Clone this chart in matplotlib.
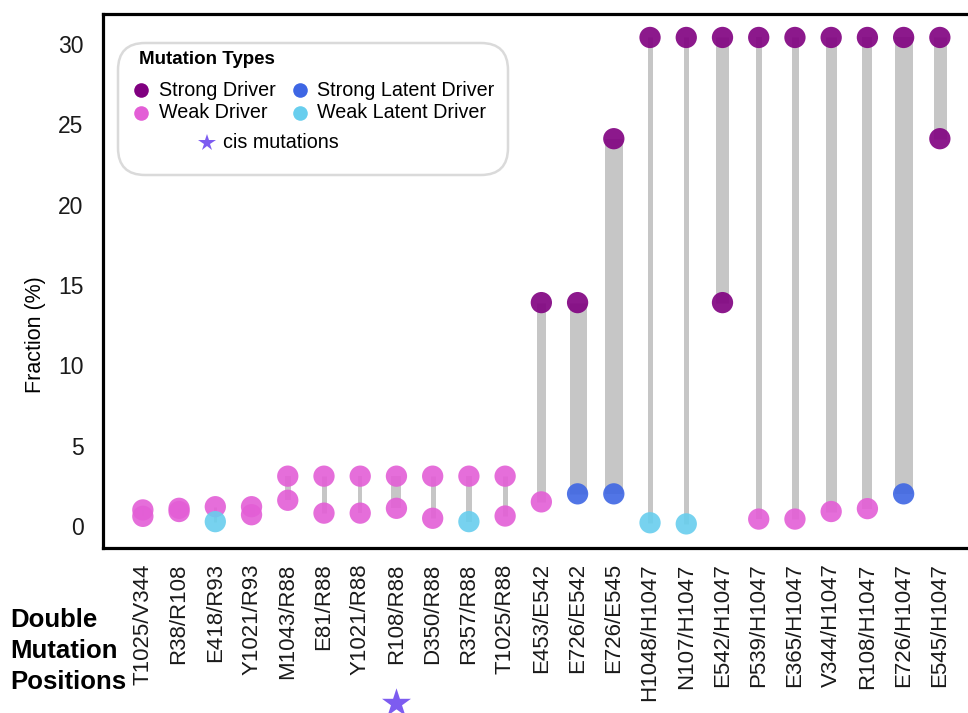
import matplotlib
matplotlib.use('Agg')
import matplotlib.pyplot as plt
from matplotlib.patches import FancyBboxPatch
from matplotlib.lines import Line2D
from matplotlib.transforms import blended_transform_factory

plt.rcParams['font.family'] = ['Liberation Sans', 'DejaVu Sans']

# Double mutation pairs and the fraction (%) of each partner mutation
pairs = ["T1025/V344", "R38/R108", "E418/R93", "Y1021/R93", "M1043/R88", "E81/R88",
         "Y1021/R88", "R108/R88", "D350/R88", "R357/R88", "T1025/R88", "E453/E542",
         "E726/E542", "E726/E545", "H1048/H1047", "N107/H1047", "E542/H1047",
         "P539/H1047", "E365/H1047", "V344/H1047", "R108/H1047", "E726/H1047",
         "E545/H1047"]
upper_frac = [1.0, 1.1, 1.2, 1.2, 3.1, 3.1, 3.1, 3.1, 3.1, 3.1, 3.1, 13.9,
              13.9, 24.1, 30.4, 30.4, 30.4, 30.4, 30.4, 30.4, 30.4, 30.4, 30.4]
upper_type = ["Weak Driver"] * 11 + ["Strong Driver"] * 12
lower_frac = [0.6, 0.9, 0.27, 0.7, 1.6, 0.8, 0.8, 1.1, 0.48, 0.27, 0.62, 1.5,
              2.0, 2.0, 0.2, 0.13, 13.9, 0.43, 0.43, 0.9, 1.08, 2.0, 24.1]
lower_type = ["Weak Driver", "Weak Driver", "Weak Latent Driver", "Weak Driver",
              "Weak Driver", "Weak Driver", "Weak Driver", "Weak Driver",
              "Weak Driver", "Weak Latent Driver", "Weak Driver", "Weak Driver",
              "Strong Latent Driver", "Strong Latent Driver", "Weak Latent Driver",
              "Weak Latent Driver", "Strong Driver", "Weak Driver", "Weak Driver",
              "Weak Driver", "Weak Driver", "Strong Latent Driver", "Strong Driver"]
# relative weight of each pair (drawn as connector thickness)
pair_weight = [2, 3, 3, 5, 6, 5, 4, 10, 5, 6, 5, 9, 17, 18, 5, 5, 13, 6, 7, 11, 10, 18, 13]
cis_pairs = ["R108/R88"]

type_colors = {
    "Strong Driver": "#800080",
    "Weak Driver": "#E35ED6",
    "Strong Latent Driver": "#3E66E4",
    "Weak Latent Driver": "#68CEEE",
}
star_color = "#7D5CF0"

fig = plt.figure(figsize=(9.68, 7.13), dpi=100)
W, H = 968, 713
ax = fig.add_axes([103 / W, 1 - 548 / H, 872 / W, 534 / H])

x = list(range(len(pairs)))

# connectors between the two mutations of each pair
ax.vlines(x, lower_frac, upper_frac, colors="#c6c6c6",
          linewidths=[w * 0.72 for w in pair_weight], zorder=1)

ax.scatter(x, upper_frac, s=235, c=[type_colors[t] for t in upper_type],
           alpha=0.9, linewidths=0, zorder=2)
ax.scatter(x, lower_frac, s=235, c=[type_colors[t] for t in lower_type],
           alpha=0.9, linewidths=0, zorder=2)

ax.set_xlim(-1.1, 22.97)
ax.set_ylim(-1.37, 31.86)
ax.set_yticks([0, 5, 10, 15, 20, 25, 30])
ax.set_xticks(x)
ax.set_xticklabels(pairs, rotation=90, fontsize=16, color="#1a1a1a")
ax.tick_params(axis="x", length=0, pad=11)
ax.tick_params(axis="y", length=0, pad=14, labelsize=16.5, labelcolor="#1a1a1a")
for sp in ax.spines.values():
    sp.set_linewidth(2.3)
    sp.set_color("black")

ax.set_ylabel("Fraction (%)", fontsize=15.5)
ax.yaxis.set_label_coords(-0.0655, 0.399)

# cis mutation marker under the tick label
trans = blended_transform_factory(ax.transData, ax.transAxes)
for p in cis_pairs:
    ax.scatter([pairs.index(p)], [-0.29], marker="*", s=480, color=star_color,
               linewidths=0, transform=trans, clip_on=False)

fig.text(10 / W, 1 - 651 / H, "Double\nMutation\nPositions", fontsize=18.5,
         fontweight="bold", ha="left", va="center", linespacing=1.36)

# legend box
def fx(px):
    return px / W

def fy(py):
    return 1 - py / H

box = FancyBboxPatch((fx(118), fy(175)), fx(508) - fx(118), fy(43) - fy(175),
                     boxstyle="round,pad=0,rounding_size=0.028",
                     mutation_aspect=W / H, transform=fig.transFigure,
                     facecolor="white", edgecolor="#dadada", linewidth=1.8, zorder=5)
fig.add_artist(box)
fig.text(fx(139), fy(59), "Mutation Types", fontsize=13.5, fontweight="bold",
         ha="left", va="center", zorder=6)

entries = [("Strong Driver", 141, 159, 90), ("Weak Driver", 141, 159, 113),
           ("Strong Latent Driver", 300, 317, 90), ("Weak Latent Driver", 300, 317, 113)]
for label, mx, tx, yy in entries:
    fig.add_artist(Line2D([fx(mx)], [fy(yy)], marker="o", markersize=10.5,
                          markerfacecolor=type_colors[label], markeredgewidth=0,
                          linestyle="none", transform=fig.transFigure, zorder=6))
    fig.text(fx(tx), fy(yy), label, fontsize=14.2, ha="left", va="center", zorder=6)

fig.add_artist(Line2D([fx(207)], [fy(143)], marker="*", markersize=13,
                      markerfacecolor=star_color, markeredgewidth=0,
                      linestyle="none", transform=fig.transFigure, zorder=6))
fig.text(fx(223), fy(143), "cis mutations", fontsize=14.2, ha="left", va="center", zorder=6)

fig.savefig("out.png", dpi=100)
